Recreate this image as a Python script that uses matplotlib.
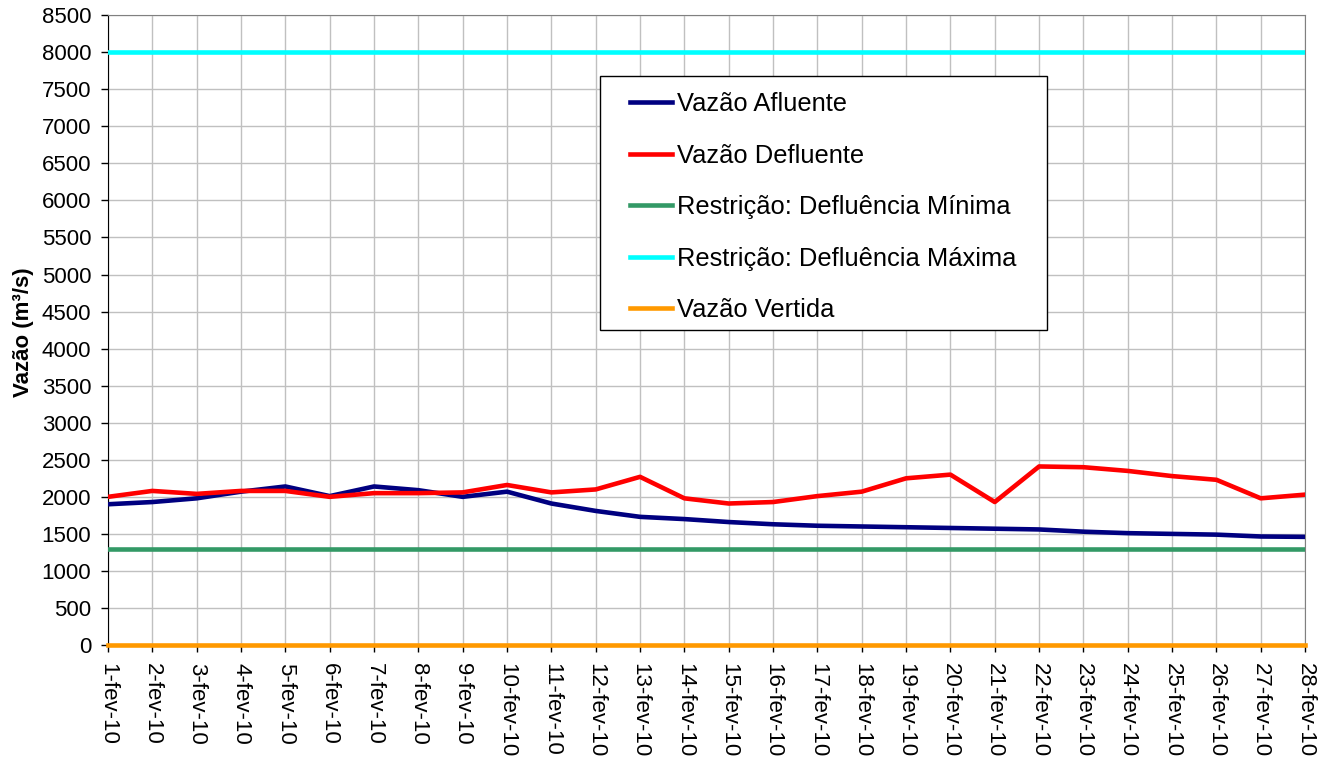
import matplotlib
matplotlib.use("Agg")
import matplotlib.pyplot as plt
from matplotlib.patches import Rectangle
from matplotlib.ticker import MultipleLocator

plt.rcParams["font.family"] = ["Liberation Sans", "DejaVu Sans"]

# Dias de fevereiro de 2010
days = [f"{d}-fev-10" for d in range(1, 29)]

vazao_afluente = [1900, 1930, 1980, 2070, 2140, 2010, 2140, 2090, 2000, 2070,
                  1910, 1810, 1730, 1700, 1660, 1630, 1610, 1600, 1590, 1580,
                  1570, 1560, 1530, 1510, 1500, 1490, 1465, 1460]
vazao_defluente = [2000, 2080, 2040, 2080, 2080, 2000, 2050, 2050, 2060, 2160,
                   2060, 2100, 2270, 1980, 1910, 1930, 2010, 2070, 2250, 2300,
                   1930, 2410, 2400, 2350, 2280, 2230, 1980, 2030]
defluencia_minima = [1300] * 28
defluencia_maxima = [8000] * 28
vazao_vertida = [0] * 28

fig = plt.figure(figsize=(13.25, 7.58), dpi=100)
ax = fig.add_axes([0.0815, 0.149, 0.9035, 0.831])

x = list(range(len(days)))
lw = 3.3
ax.plot(x, vazao_afluente, color="#000080", lw=lw, label="Vazão Afluente", zorder=5)
ax.plot(x, vazao_defluente, color="#FF0000", lw=lw, label="Vazão Defluente", zorder=6)
ax.plot(x, defluencia_minima, color="#339966", lw=lw, label="Restrição: Defluência Mínima", zorder=4)
ax.plot(x, defluencia_maxima, color="#00FFFF", lw=lw, label="Restrição: Defluência Máxima", zorder=4)
ax.plot(x, vazao_vertida, color="#FF9900", lw=lw, label="Vazão Vertida", zorder=4,
        clip_on=False)

ax.set_xlim(0, len(days) - 1)
ax.set_ylim(0, 8500)
ax.yaxis.set_major_locator(MultipleLocator(500))
ax.set_xticks(x)
ax.set_xticklabels(days, rotation=270, fontsize=16)
ax.tick_params(axis="y", labelsize=16, pad=7)
ax.tick_params(axis="x", pad=8)
ax.tick_params(direction="out", length=5, width=1, color="black")

ax.grid(True, color="#C0C0C0", lw=1)
ax.set_axisbelow(True)
for side in ["top", "right"]:
    ax.spines[side].set_color("#808080")
for side in ["left", "bottom"]:
    ax.spines[side].set_color("black")
ax.spines["bottom"].set_zorder(3)

ax.set_ylabel("Vazão (m³/s)", fontsize=16, fontweight="bold")
ax.yaxis.set_label_coords(-0.062, 0.497)

# Legend box drawn separately so the padding matches the original
ax.add_patch(Rectangle((0.411, 0.5), 0.373, 0.403, transform=ax.transAxes,
                       facecolor="white", edgecolor="black", lw=1, zorder=7))
leg = ax.legend(loc="upper left", bbox_to_anchor=(0.436, 0.878), fontsize=18.4,
                frameon=False, handlelength=1.64, handletextpad=0.2,
                labelspacing=1.08, borderpad=0, borderaxespad=0)
leg.set_zorder(8)

fig.savefig("out.png", dpi=100)
